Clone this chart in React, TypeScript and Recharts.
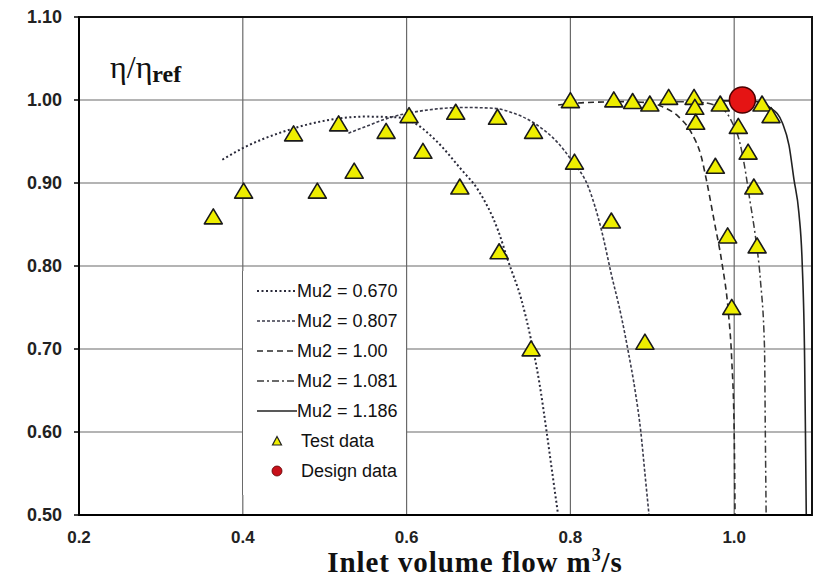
import { ComposedChart, Line, Scatter, XAxis, YAxis, CartesianGrid, ReferenceArea, Customized } from 'recharts'

// Test points: inlet volume flow (m3/s) and relative efficiency
const TEST_FLOW = [
  0.364, 0.401, 0.462, 0.491, 0.517, 0.536, 0.575, 0.603, 0.62, 0.66, 0.665, 0.711,
  0.713, 0.752, 0.755, 0.8, 0.805, 0.85, 0.853, 0.876, 0.897, 0.891, 0.92, 0.951,
  0.952, 0.953, 0.977, 0.983, 0.992, 0.997, 1.005, 1.017, 1.024, 1.028, 1.034, 1.045,
]
const TEST_ETA = [
  0.858, 0.889, 0.958, 0.889, 0.97, 0.913, 0.961, 0.98, 0.937, 0.984, 0.894, 0.978,
  0.816, 0.699, 0.961, 0.998, 0.924, 0.853, 0.999, 0.997, 0.994, 0.707, 1.002, 1.002,
  0.99, 0.972, 0.919, 0.994, 0.835, 0.749, 0.967, 0.936, 0.894, 0.823, 0.994, 0.98,
]

const DESIGN_FLOW = [1.01]
const DESIGN_ETA = [1.0]

// Predicted characteristics for each Mu2
const MU0670_FLOW = [0.375, 0.4, 0.45, 0.5, 0.55, 0.59, 0.61, 0.635, 0.667, 0.687, 0.712, 0.724, 0.74, 0.752, 0.762, 0.771, 0.778, 0.785]
const MU0670_ETA = [0.928, 0.942, 0.962, 0.975, 0.98, 0.979, 0.972, 0.952, 0.916, 0.892, 0.842, 0.806, 0.76, 0.711, 0.66, 0.6, 0.55, 0.5]

const MU0807_FLOW = [0.529, 0.55, 0.577, 0.626, 0.67, 0.707, 0.728, 0.756, 0.785, 0.801, 0.822, 0.838, 0.85, 0.862, 0.871, 0.879, 0.886, 0.891, 0.896]
const MU0807_ETA = [0.96, 0.968, 0.978, 0.988, 0.991, 0.99, 0.985, 0.972, 0.948, 0.928, 0.895, 0.843, 0.79, 0.74, 0.695, 0.65, 0.6, 0.55, 0.5]

const MU1000_FLOW = [0.785, 0.82, 0.87, 0.9, 0.912, 0.932, 0.948, 0.96, 0.966, 0.976, 0.985, 0.993, 0.997, 1.0, 1.001]
const MU1000_ETA = [0.994, 0.997, 0.998, 0.996, 0.992, 0.98, 0.96, 0.931, 0.904, 0.852, 0.804, 0.743, 0.687, 0.6, 0.5]

const MU1081_FLOW = [0.93, 0.96, 0.985, 0.998, 1.006, 1.012, 1.019, 1.026, 1.032, 1.037, 1.038, 1.039]
const MU1081_ETA = [0.998, 0.997, 0.99, 0.972, 0.952, 0.924, 0.88, 0.835, 0.783, 0.702, 0.6, 0.5]

const MU1186_FLOW = [0.98, 1.02, 1.045, 1.059, 1.067, 1.073, 1.079, 1.083, 1.086, 1.087, 1.088]
const MU1186_ETA = [0.999, 0.999, 0.99, 0.972, 0.945, 0.904, 0.864, 0.804, 0.687, 0.6, 0.5]

const X_TICKS = [0.2, 0.4, 0.6, 0.8, 1.0]
const Y_TICKS = [0.5, 0.6, 0.7, 0.8, 0.9, 1.0, 1.1]
const X_MIN = 0.2
const X_MAX = 1.095

const zip = (xs: number[], ys: number[]) => xs.map((x, i) => ({ x, y: ys[i] }))

const CURVES = [
  { name: 'Mu2 = 0.670', data: zip(MU0670_FLOW, MU0670_ETA), dash: '2 2.5', width: 2, color: '#2a2a3a' },
  { name: 'Mu2 = 0.807', data: zip(MU0807_FLOW, MU0807_ETA), dash: '3 2', width: 1.6, color: '#3a3a4a' },
  { name: 'Mu2 = 1.00', data: zip(MU1000_FLOW, MU1000_ETA), dash: '6 4', width: 1.6, color: '#2a2a2a' },
  { name: 'Mu2 = 1.081', data: zip(MU1081_FLOW, MU1081_ETA), dash: '7 3 2 3', width: 1.5, color: '#3a3a3a' },
  { name: 'Mu2 = 1.186', data: zip(MU1186_FLOW, MU1186_ETA), dash: undefined, width: 1.6, color: '#222' },
]

const TRI_FILL = '#eeee00'
const DOT_RED = '#e51414'
const GRID = '#6a6a6a'
const SANS = '"Liberation Sans", Arial, sans-serif'
const SERIF = '"Liberation Serif", "Times New Roman", serif'

function Triangle(props: any) {
  const { cx, cy } = props
  return (
    <polygon
      points={`${cx},${cy - 9} ${cx - 9},${cy + 6} ${cx + 9},${cy + 6}`}
      fill={TRI_FILL}
      stroke="#1a1a1a"
      strokeWidth={1.6}
      strokeLinejoin="round"
    />
  )
}

function DesignDot(props: any) {
  const { cx, cy } = props
  return <circle cx={cx} cy={cy} r={13} fill={DOT_RED} stroke="#4a0000" strokeWidth={1.5} />
}

function Titles() {
  return (
    <g>
      <text x={110} y={78} fontFamily={SERIF} fontSize={32} fill="#111">
        η/η
        <tspan dy={4} fontSize={24} fontWeight="bold">ref</tspan>
      </text>
      <text
        x={475}
        y={572}
        textAnchor="middle"
        fontFamily={SERIF}
        fontWeight="bold"
        fontSize={29}
        letterSpacing={0.9}
        fill="#111"
      >
        Inlet volume flow m
        <tspan dy={-11} fontSize={18}>3</tspan>
        <tspan dy={11}>/s</tspan>
      </text>
    </g>
  )
}

function LegendBox() {
  const rows = CURVES.map((c) => (
    <div key={c.name} style={{ height: 30, display: 'flex', alignItems: 'center' }}>
      <svg width={40} height={10} style={{ marginLeft: 14 }}>
        <line x1={0} y1={5} x2={40} y2={5} stroke={c.color} strokeWidth={c.width} strokeDasharray={c.dash} />
      </svg>
      <span>{c.name}</span>
    </div>
  ))
  return (
    <div
      style={{
        position: 'absolute',
        left: 242,
        top: 271,
        width: 165,
        height: 224,
        background: '#fff',
        borderLeft: `1px solid ${GRID}`,
        borderRight: `1px solid ${GRID}`,
        boxSizing: 'border-box',
        paddingTop: 5,
        fontFamily: SANS,
        fontSize: 18,
        color: '#111',
        lineHeight: 1,
      }}
    >
      {rows}
      <div style={{ height: 30, display: 'flex', alignItems: 'center' }}>
        <svg width={40} height={12} style={{ marginLeft: 14 }}>
          <polygon points="20,1.5 15.5,10 24.5,10" fill={TRI_FILL} stroke="#222" strokeWidth={1.2} />
        </svg>
        <span style={{ marginLeft: 4 }}>Test data</span>
      </div>
      <div style={{ height: 30, display: 'flex', alignItems: 'center' }}>
        <svg width={40} height={12} style={{ marginLeft: 14 }}>
          <circle cx={20} cy={6} r={5} fill="#c8101a" stroke="#5a0000" strokeWidth={0.8} />
        </svg>
        <span style={{ marginLeft: 4 }}>Design data</span>
      </div>
    </div>
  )
}

export default function App() {
  const xTick = { fontFamily: SANS, fontSize: 17, fontWeight: 'bold' as const, fill: '#222' }
  const yTick = { fontFamily: SANS, fontSize: 18, fontWeight: 'bold' as const, fill: '#222' }
  return (
    <div style={{ position: 'absolute', left: 0, top: 0, width: 814, height: 580, background: '#fff' }}>
      <ComposedChart width={814} height={580} margin={{ top: 17, right: 2, bottom: 0, left: 0 }}>
        <CartesianGrid stroke={GRID} strokeWidth={1.2} />
        <XAxis
          type="number"
          dataKey="x"
          domain={[X_MIN, X_MAX]}
          ticks={X_TICKS}
          allowDataOverflow
          height={65}
          tickSize={0}
          tickMargin={16}
          tick={xTick}
          tickFormatter={(v: number) => v.toFixed(1)}
          axisLine={{ stroke: '#000', strokeWidth: 2 }}
        />
        <YAxis
          type="number"
          dataKey="y"
          domain={[0.5, 1.1]}
          ticks={Y_TICKS}
          allowDataOverflow
          width={79}
          tickSize={5}
          tickMargin={12}
          tick={yTick}
          tickLine={{ stroke: '#000', strokeWidth: 1.5 }}
          tickFormatter={(v: number) => v.toFixed(2)}
          axisLine={{ stroke: '#000', strokeWidth: 2 }}
        />
        {CURVES.map((c) => (
          <Line
            key={c.name}
            data={c.data}
            dataKey="y"
            type="monotone"
            stroke={c.color}
            strokeWidth={c.width}
            strokeDasharray={c.dash}
            dot={false}
            activeDot={false}
            isAnimationActive={false}
          />
        ))}
        <Scatter data={zip(TEST_FLOW, TEST_ETA)} shape={Triangle} isAnimationActive={false} />
        <Scatter data={zip(DESIGN_FLOW, DESIGN_ETA)} shape={DesignDot} isAnimationActive={false} />
        <ReferenceArea x1={X_MIN} x2={X_MAX} y1={0.5} y2={1.1} fill="none" stroke="#111" strokeWidth={2} ifOverflow="visible" />
        <Customized component={Titles} />
      </ComposedChart>
      <LegendBox />
    </div>
  )
}
